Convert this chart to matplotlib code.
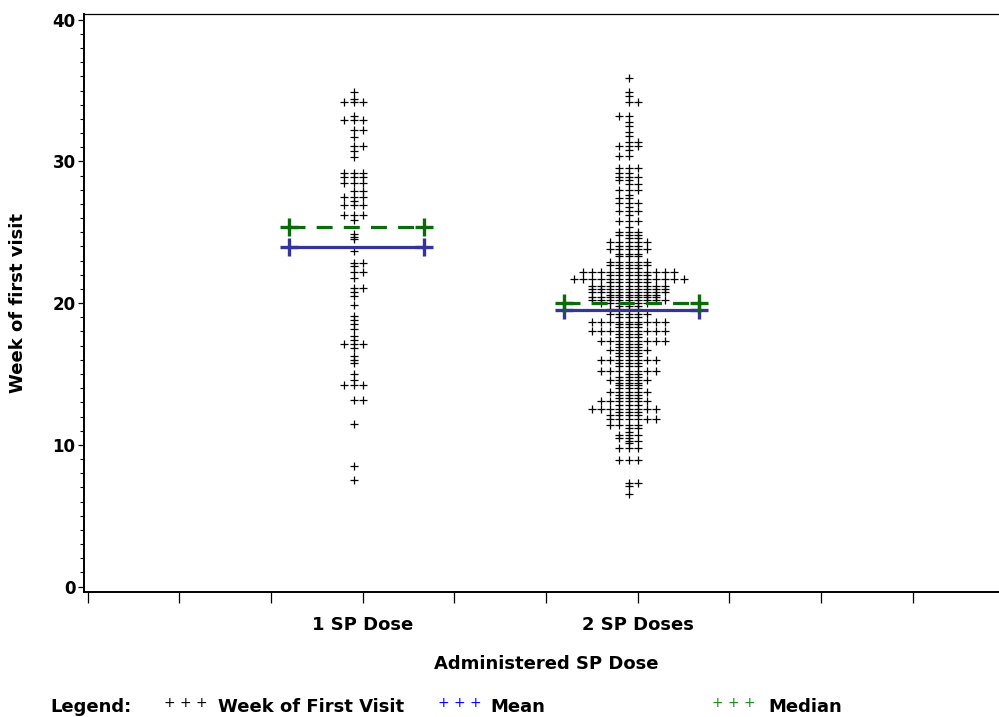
import numpy as np
import matplotlib.pyplot as plt
from matplotlib.ticker import MultipleLocator

# Week of first visit, by number of SP doses given (value, number of women)
dose1_weeks = [34.9, 34.4, 34.2, 33.2, 32.9, 32.2, 31.7, 31.1, 30.7, 30.3,
               29.2, 28.9, 28.5, 27.9, 27.5, 27.2, 26.9, 26.2, 25.9,
               24.9, 24.7, 24.5, 23.7, 22.8, 22.6, 22.2, 21.8, 21.1, 20.8,
               20.5, 19.9, 19.1, 18.8, 18.5, 18.2, 17.7, 17.4, 17.1, 16.8,
               16.3, 16.0, 15.8, 15.0, 14.6, 14.2, 13.2, 11.5, 8.5, 7.5]
dose1_counts = [1, 1, 3, 1, 3, 2, 1, 2, 1, 1,
                3, 3, 3, 2, 3, 1, 3, 3, 1,
                1, 1, 1, 1, 2, 1, 2, 1, 2, 1,
                1, 1, 1, 1, 1, 1, 1, 1, 3, 1,
                1, 1, 1, 1, 1, 3, 2, 1, 1, 1]

dose2_weeks = [35.9, 34.9, 34.6, 34.2, 33.2, 32.8, 32.5, 32.1, 31.8,
               31.4, 31.1, 30.8, 30.4, 29.5, 29.2, 28.9, 28.7, 28.4, 28.0,
               27.6, 27.4, 27.1, 26.8, 26.5, 26.2, 25.8, 25.4, 25.0,
               24.8, 24.6, 24.3, 24.0, 23.8, 23.5, 23.3,
               22.9, 22.7, 22.5, 22.2, 22.0, 21.7, 21.5, 21.2, 21.0,
               20.8, 20.6, 20.4, 20.2, 20.0,
               19.8, 19.6, 19.2, 19.0, 18.7, 18.5, 18.3, 18.0, 17.8, 17.6,
               17.3, 17.1, 16.9, 16.7, 16.5, 16.3, 16.0, 15.8, 15.6,
               15.2, 15.0, 14.8, 14.6, 14.4, 14.2, 14.0,
               13.7, 13.5, 13.3, 13.1, 12.8, 12.5, 12.3, 12.1,
               11.8, 11.4, 11.2, 10.9, 10.7, 10.5, 10.3, 10.1,
               9.8, 8.9, 7.3, 7.1, 6.5]
dose2_counts = [1, 1, 1, 2, 2, 1, 1, 1, 1,
                2, 3, 1, 2, 3, 2, 3, 2, 2, 3,
                1, 2, 3, 1, 3, 1, 3, 1, 3,
                3, 2, 5, 3, 5, 3, 3,
                5, 5, 3, 11, 5, 13, 5, 9, 9,
                9, 6, 8, 9, 6,
                3, 4, 5, 3, 9, 3, 3, 9, 3, 3,
                8, 3, 3, 5, 3, 3, 7, 3, 3,
                7, 2, 3, 5, 3, 3, 3,
                5, 3, 3, 6, 3, 8, 3, 4,
                6, 4, 2, 1, 3, 2, 2, 1,
                3, 3, 2, 1, 1]

group_labels = ["1 SP Dose", "2 SP Doses"]
group_pos = [3, 6]

FONT = "DejaVu Sans"
MEAN_COLOR = "#34349c"
MEDIAN_COLOR = "#0b6b0b"


def swarm(vals, gap=0.18):
    # points on the same week go side by side, nearby weeks stack in a column
    placed = {}
    cols = []
    last, side = None, 1
    for v in vals:
        if v != last:
            side = -side
            last = v
        order = [0] + [s * k for k in range(1, 40) for s in (side, -side)]
        for c in order:
            if all(abs(v - y) > gap for y in placed.get(c, [])):
                placed.setdefault(c, []).append(v)
                cols.append(c)
                break
    return np.array(cols)


fig = plt.figure(figsize=(9.99, 7.17), dpi=100)
ax = fig.add_axes([84 / 999, 125 / 717, 924 / 999, 578 / 717])

groups = [np.repeat(dose1_weeks, dose1_counts), np.repeat(dose2_weeks, dose2_counts)]
for pos, vals in zip(group_pos, groups):
    vals = np.sort(vals)[::-1]
    cols = swarm(vals)
    ax.plot(pos - 0.1 + cols * 0.1, vals, linestyle="none", marker="+",
            color="black", markersize=6, markeredgewidth=0.9, zorder=2)

    x0, x1 = pos - 0.8, pos + 0.67
    m = np.mean(vals)
    md = np.median(vals)
    ax.plot([x0, x1], [m, m], color=MEAN_COLOR, lw=2.3, marker="+",
            markersize=13, markeredgewidth=2.4, zorder=3)
    ax.plot([x0, x1], [md, md], color=MEDIAN_COLOR, lw=2.3, dashes=(5, 3.5),
            marker="+", markersize=13, markeredgewidth=2.4, zorder=4)

ax.set_xlim(-0.04, 10.04)
ax.set_ylim(-0.38, 40.4)
ax.set_xticks(range(11))
ax.set_xticklabels([group_labels[group_pos.index(i)] if i in group_pos else "" for i in range(11)],
                   fontsize=13, fontweight="bold", family=FONT)
ax.set_yticks([0, 10, 20, 30, 40])
ax.set_yticklabels(["0", "10", "20", "30", "40"], fontsize=12, fontweight="bold", family=FONT)
ax.yaxis.set_minor_locator(MultipleLocator(1))
ax.tick_params(axis="x", direction="out", length=8, width=0.9, pad=9)
ax.tick_params(axis="y", which="major", direction="out", length=4, width=0.9, pad=2)
ax.tick_params(axis="y", which="minor", direction="out", length=3, width=0.8)

for side in ["left", "bottom"]:
    ax.spines[side].set_linewidth(1.4)
ax.spines["top"].set_linewidth(0.9)
ax.spines["right"].set_visible(False)

fig.text(18 / 999, 1 - 303 / 717, "Week of first visit", rotation=90, ha="center", va="center",
         fontsize=13, fontweight="bold", family=FONT)
fig.text(546 / 999, 1 - 664 / 717, "Administered SP Dose", ha="center", va="center",
         fontsize=13, fontweight="bold", family=FONT)

# legend row along the bottom edge
base = 1 - 712 / 717
fig.text(50 / 999, base, "Legend:", fontsize=13, fontweight="bold", family=FONT, va="baseline")
for x_sym, x_txt, color, label in [(164, 218, "black", "Week of First Visit"),
                                   (438, 490, "blue", "Mean"),
                                   (712, 768, "#109010", "Median")]:
    fig.text(x_sym / 999, 1 - 707 / 717, "+ + +", fontsize=10, color=color, family=FONT, va="baseline")
    fig.text(x_txt / 999, base, label, fontsize=13, fontweight="bold", family=FONT, va="baseline")

fig.savefig("out.png", dpi=100)
